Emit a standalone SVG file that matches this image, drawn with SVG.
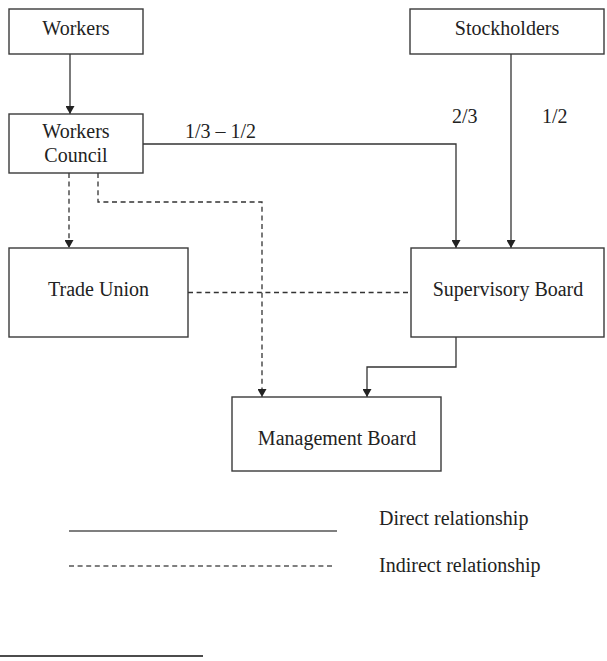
<svg xmlns="http://www.w3.org/2000/svg" width="607" height="661" viewBox="0 0 607 661">
  <style>
    .box { fill: #ffffff; stroke: #3a3a3a; stroke-width: 1.4; }
    .lbl { font-family: "Liberation Serif", "Times New Roman", serif; font-size: 20px; fill: #222222; }
    .mid { text-anchor: middle; }
    .solid { fill: none; stroke: #333333; stroke-width: 1.3; }
    .dash { fill: none; stroke: #333333; stroke-width: 1.3; stroke-dasharray: 5 3.6; }
  </style>
  <defs>
    <marker id="arrow" viewBox="0 0 8 9" refX="8" refY="4.5" markerWidth="8" markerHeight="9" markerUnits="userSpaceOnUse" orient="auto">
      <path d="M0,0 L8,4.5 L0,9 z" fill="#222222"/>
    </marker>
  </defs>

  <rect width="607" height="661" fill="#ffffff"/>

  <!-- connectors -->
  <g id="connectors">
    <path class="solid" d="M70,54 V114" marker-end="url(#arrow)"/>
    <path class="solid" d="M143,144 H456 V248" marker-end="url(#arrow)"/>
    <path class="solid" d="M511,54 V248" marker-end="url(#arrow)"/>
    <path class="solid" d="M456,337 V367 H367 V397" marker-end="url(#arrow)"/>
    <path class="dash" d="M69,173 V248" marker-end="url(#arrow)"/>
    <path class="dash" d="M98,173 V202 H262 V397" marker-end="url(#arrow)"/>
    <path class="dash" d="M188,292.5 H411"/>
    <text class="lbl" x="185" y="138">1/3 – 1/2</text>
    <text class="lbl" x="452" y="123">2/3</text>
    <text class="lbl" x="542" y="123">1/2</text>
  </g>

  <!-- nodes -->
  <g id="workers">
    <rect class="box" x="9" y="9" width="134" height="45"/>
    <text class="lbl mid" x="76" y="34.5">Workers</text>
  </g>
  <g id="stockholders">
    <rect class="box" x="410" y="9" width="194" height="45"/>
    <text class="lbl mid" x="507" y="34.5">Stockholders</text>
  </g>
  <g id="workers-council">
    <rect class="box" x="9" y="114" width="134" height="59"/>
    <text class="lbl mid" x="76" y="138">Workers</text>
    <text class="lbl mid" x="76" y="162">Council</text>
  </g>
  <g id="trade-union">
    <rect class="box" x="9" y="248" width="179" height="89"/>
    <text class="lbl mid" x="98.5" y="296">Trade Union</text>
  </g>
  <g id="supervisory-board">
    <rect class="box" x="411" y="248" width="193" height="89"/>
    <text class="lbl mid" x="508" y="296">Supervisory Board</text>
  </g>
  <g id="management-board">
    <rect class="box" x="232" y="397" width="209" height="74"/>
    <text class="lbl mid" x="337" y="445">Management Board</text>
  </g>

  <!-- legend -->
  <g id="legend">
    <line x1="69" y1="531" x2="337" y2="531" stroke="#555555" stroke-width="1.6"/>
    <line x1="69" y1="566" x2="333" y2="566" stroke="#555555" stroke-width="1.4" stroke-dasharray="5 3.6"/>
    <text class="lbl" x="379" y="525">Direct relationship</text>
    <text class="lbl" x="379" y="572">Indirect relationship</text>
  </g>

  <line x1="0" y1="656" x2="203" y2="656" stroke="#111111" stroke-width="1.3"/>
</svg>
